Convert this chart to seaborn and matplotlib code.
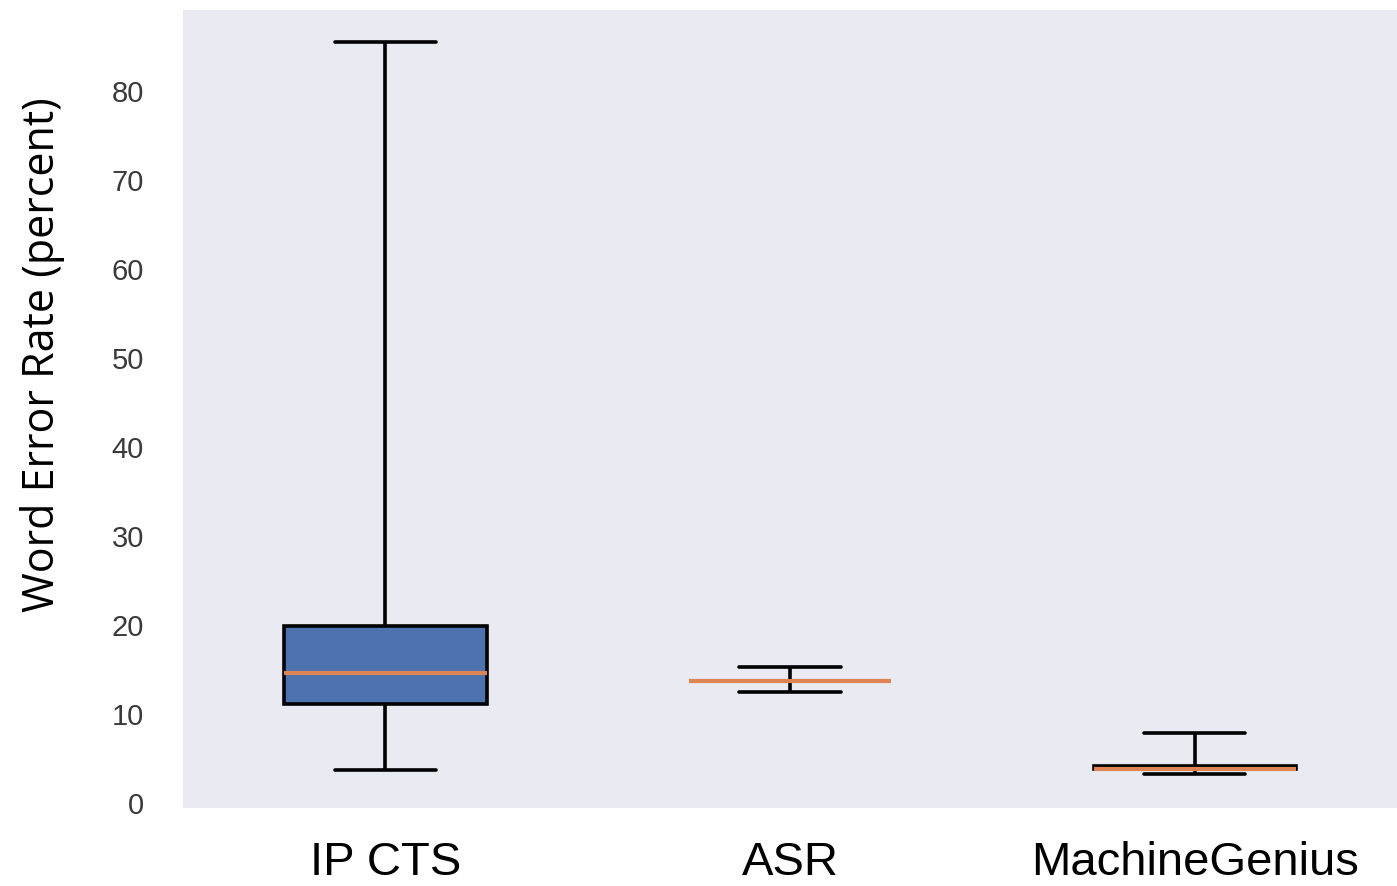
import matplotlib
matplotlib.use("Agg")
import matplotlib.pyplot as plt
import seaborn as sns
import pandas as pd

# Five-number summaries (min, Q1, median, Q3, max)
systems = ["IP CTS", "ASR", "MachineGenius"]
ip_cts = [3.7, 11.1, 14.55, 19.9, 85.5]
asr = [12.4, 13.65, 13.65, 13.65, 15.3]
machine_genius = [3.27, 3.76, 3.76, 4.16, 7.87]
y_ticks = [0, 10, 20, 30, 40, 50, 60, 70, 80]

df = pd.DataFrame({
    "system": [systems[0]] * len(ip_cts) + [systems[1]] * len(asr) + [systems[2]] * len(machine_genius),
    "wer": ip_cts + asr + machine_genius,
})

sns.set_theme(style="dark")
fig = plt.figure(figsize=(13.97, 8.86), dpi=100)
ax = fig.add_axes([0.131, 0.088, 0.869, 0.9007])

sns.boxplot(data=df, x="system", y="wer", order=systems, ax=ax,
            whis=(0, 100), width=0.5, color="#4C72B0", saturation=1,
            linecolor="black", linewidth=2.6,
            medianprops=dict(color="#DD8452", linewidth=3))

ax.set_ylim(-0.6, 89.1)
ax.set_xlim(-0.5, 2.5)
ax.set_yticks(y_ticks)
ax.set_xlabel("")
ax.set_ylabel("Word Error Rate (percent)", fontsize=31, family="Open Sans", color="black")
ax.yaxis.set_label_coords(-0.097, 0.568)

for lbl in ax.get_yticklabels():
    lbl.set_family("Liberation Sans")
    lbl.set_fontsize(21)
    lbl.set_color("#3a3a3a")
for lbl in ax.get_xticklabels():
    lbl.set_family("Liberation Sans")
    lbl.set_fontsize(34)
    lbl.set_color("black")
ax.tick_params(axis="y", pad=28, length=0)
ax.tick_params(axis="x", pad=23.5, length=0)
for s in ax.spines.values():
    s.set_visible(False)

fig.savefig("out.png", dpi=100)
